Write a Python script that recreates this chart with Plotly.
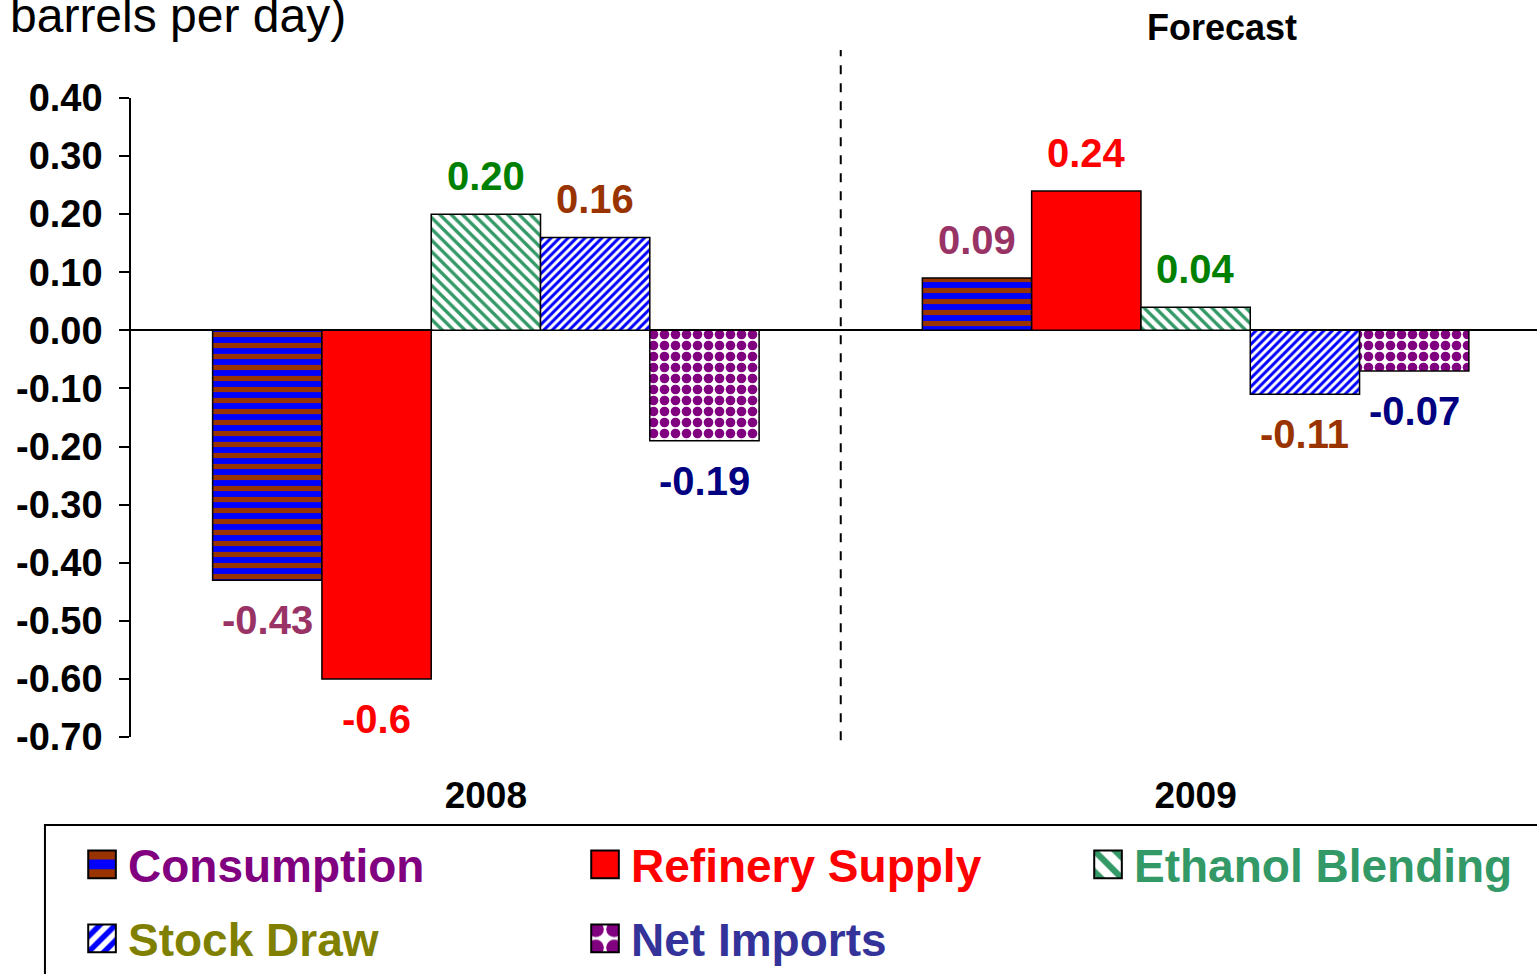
import plotly.graph_objects as go

# Change (million barrels per day), 2008 actual vs 2009 forecast
years = ["2008", "2009"]
series = ["Consumption", "Refinery Supply", "Ethanol Blending", "Stock Draw", "Net Imports"]
consumption = [-0.43, 0.09]
refinery_supply = [-0.60, 0.24]
ethanol_blending = [0.20, 0.04]
stock_draw = [0.16, -0.11]
net_imports = [-0.19, -0.07]
value_labels = [
    ["-0.43", "0.09"],
    ["-0.6", "0.24"],
    ["0.20", "0.04"],
    ["0.16", "-0.11"],
    ["-0.19", "-0.07"],
]
ytick_vals = [0.4, 0.3, 0.2, 0.1, 0.0, -0.1, -0.2, -0.3, -0.4, -0.5, -0.6, -0.7]
ytick_text = ["0.40", "0.30", "0.20", "0.10", "0.00", "-0.10", "-0.20", "-0.30",
              "-0.40", "-0.50", "-0.60", "-0.70"]

values = [consumption, refinery_supply, ethanol_blending, stock_draw, net_imports]

FONT = "Liberation Sans, Arial, sans-serif"
label_colors = ["#993366", "#FF0000", "#008000", "#993300", "#000080"]
legend_colors = ["#800080", "#FF0000", "#339966", "#808000", "#333399"]
patterns = [
    dict(shape="-", fgcolor="#993300", bgcolor="#0000FF", size=11, solidity=0.47, fillmode="replace"),
    dict(shape="", fgcolor="#FF0000", bgcolor="#FF0000"),
    dict(shape="\\", fgcolor="#339966", bgcolor="white", size=8, solidity=0.42, fillmode="replace"),
    dict(shape="/", fgcolor="#0000FF", bgcolor="white", size=6, solidity=0.5, fillmode="replace"),
    dict(shape=".", fgcolor="#800080", bgcolor="white", size=11, solidity=0.6, fillmode="replace"),
]
fills = ["#0000FF", "#FF0000", "white", "white", "white"]
# first three entries in the top legend row, the rest in the second
legend_rows = ["legend", "legend", "legend", "legend2", "legend2"]

BARGAP = 0.23
n = len(series)
bar_w = (1 - BARGAP) / n

fig = go.Figure()

for i, name in enumerate(series):
    fig.add_trace(go.Bar(
        x=[0, 1],
        y=values[i],
        name=f"<span style='color:{legend_colors[i]}'>{name}</span>",
        legend=legend_rows[i],
        marker=dict(color=fills[i], pattern=patterns[i],
                    line=dict(color="black", width=1.5)),
        hoverinfo="skip",
    ))

# Data labels just beyond the end of each bar
annotations = []
for i in range(n):
    for j, v in enumerate(values[i]):
        annotations.append(dict(
            x=j + (i - (n - 1) / 2) * bar_w, y=v, xref="x", yref="y",
            text=f"<b>{value_labels[i][j]}</b>", showarrow=False,
            yshift=38 if v >= 0 else -40,
            font=dict(family=FONT, size=40, color=label_colors[i]),
        ))

annotations += [
    dict(text="barrels per day)", xref="paper", yref="paper", x=-0.0875, y=1.085,
         xanchor="left", yanchor="bottom", showarrow=False,
         font=dict(family=FONT, size=48, color="black")),
    dict(text="<b>Forecast</b>", xref="x", yref="paper", x=1.037, y=1.145,
         showarrow=False, font=dict(family=FONT, size=36, color="black")),
]

# forecast divider
fig.add_shape(type="line", xref="x", yref="paper", x0=0.5, x1=0.5, y0=-0.005, y1=1.075,
              line=dict(color="black", width=2, dash="dash"))
# legend frame (runs off the right and bottom edges, as in the source)
fig.add_shape(type="rect", xref="paper", yref="paper", x0=-0.0612, x1=1.03,
              y0=-0.40, y1=-0.1377, line=dict(color="black", width=2),
              fillcolor="rgba(0,0,0,0)")

legend_common = dict(
    orientation="h", x=-0.0391, xanchor="left", yanchor="top",
    entrywidth=446, entrywidthmode="pixels", itemwidth=42, traceorder="normal",
    borderwidth=0, bgcolor="rgba(0,0,0,0)",
    font=dict(family=FONT, size=46, weight="bold"),
)

fig.update_layout(
    width=1537, height=974,
    barmode="group", bargap=BARGAP, bargroupgap=0,
    plot_bgcolor="white", paper_bgcolor="white",
    margin=dict(l=131, r=0, t=98, b=237, autoexpand=False),
    font=dict(family=FONT, color="black"),
    annotations=annotations,
    showlegend=True,
    legend=dict(legend_common, y=-0.1424),
    legend2=dict(legend_common, y=-0.2582),
    xaxis=dict(
        range=[-0.5, 1.481], tickvals=[0, 1], ticktext=[f"<b>{y}</b>" for y in years],
        showline=False, showgrid=False, zeroline=False, ticks="",
        ticklabelstandoff=33, tickfont=dict(family=FONT, size=37, color="black"),
    ),
    yaxis=dict(
        range=[-0.70, 0.40], tickvals=ytick_vals, ticktext=[f"<b>{t}</b>" for t in ytick_text],
        showline=True, linecolor="black", linewidth=1.5, showgrid=False,
        ticks="outside", ticklen=10, tickwidth=1.5, tickcolor="black",
        zeroline=True, zerolinecolor="black", zerolinewidth=1.5,
        tickfont=dict(family=FONT, size=38, color="black"), ticklabelstandoff=9,
    ),
)

# drop the default page margin and enlarge the legend swatches to match the source
post = """
document.body.style.margin = '0';
document.querySelectorAll('.legendpoints path').forEach(function (p) {
    var t = p.getAttribute('transform') || '';
    p.setAttribute('transform', t + ' scale(2.3)');
    p.style.vectorEffect = 'non-scaling-stroke';
    p.style.strokeWidth = '2px';
    p.style.stroke = 'black';
});
"""
fig.write_html("out.html", config={"displayModeBar": False}, post_script=post)
